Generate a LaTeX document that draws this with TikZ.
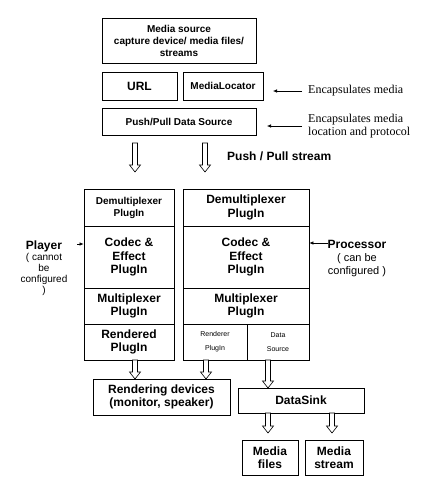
\documentclass[tikz,border=0pt]{standalone}
\usepackage{fontspec}
\setmainfont{Liberation Serif}
\setsansfont{Liberation Sans}
\usetikzlibrary{arrows.meta}
\begin{document}
\begin{tikzpicture}[x=1pt,y=-1pt,
  box/.style={draw, line width=0.8pt, inner sep=0pt, align=center,
    font=\sffamily\bfseries\fontsize{12}{13.5}\selectfont},
  smallbox/.style={box, font=\sffamily\bfseries\fontsize{10}{12}\selectfont},
  tinybox/.style={box, font=\sffamily\fontsize{7}{14}\selectfont},
  label/.style={inner sep=0pt, align=center, font=\sffamily\bfseries\fontsize{12}{13.5}\selectfont},
  note/.style={inner sep=0pt, align=left, font=\rmfamily\fontsize{12}{13}\selectfont},
  pointer/.style={line width=0.6pt, -{Latex[length=4pt,width=3.5pt]}},
  pics/harrow/.style={code={
    \draw[line width=0.6pt, fill=white] (-2.5,0) -- (2.5,0) -- (2.5,#1-7) -- (5.5,#1-7)
      -- (0,#1) -- (-5.5,#1-7) -- (-2.5,#1-7) -- cycle;}}
]
\useasboundingbox (0,0) rectangle (438,488);

% top boxes
\node[smallbox, minimum width=154, minimum height=45] (src) at (179,40.5)
  {Media source\\capture device/ media files/\\streams};
\node[box, minimum width=75, minimum height=28] (url) at (139.5,86) {URL};
\node[smallbox, minimum width=80, minimum height=28] (loc) at (223,86) {MediaLocator};
\node[smallbox, minimum width=154, minimum height=27] (pps) at (179,121.5) {Push/Pull Data Source};

% annotations
\node[note, anchor=west] (enc1) at (308,91) {Encapsulates media};
\node[note, anchor=west] (enc2) at (308,126.5) {Encapsulates media\\location and protocol};
\coordinate (t1) at (273,91);
\coordinate (t2) at (267,126);
\draw[pointer] ([xshift=-6pt]enc1.west) -- (t1);
\draw[pointer] ([xshift=-6pt]enc2.west |- t2) -- (t2);

% push/pull stream
\pic at (135,143) {harrow=29};
\pic at (205,143) {harrow=29};
\node[label, anchor=west] (pps-lbl) at (227,156) {Push / Pull stream};

% player column
\node[smallbox, minimum width=90, minimum height=37] (pdemux) at (129,207.5) {Demultiplexer\\PlugIn};
\node[box, minimum width=90, minimum height=62] (pcodec) at (129,257) {Codec \&\\Effect\\PlugIn};
\node[box, minimum width=90, minimum height=36] (pmux) at (129,306) {Multiplexer\\PlugIn};
\node[box, minimum width=90, minimum height=36] (prend) at (129,342) {Rendered\\PlugIn};

% processor column
\node[box, minimum width=126, minimum height=37] (qdemux) at (246,207.5) {Demultiplexer\\PlugIn};
\node[box, minimum width=126, minimum height=62] (qcodec) at (246,257) {Codec \&\\Effect\\PlugIn};
\node[box, minimum width=126, minimum height=36] (qmux) at (246,306) {Multiplexer\\PlugIn};
\node[tinybox, minimum width=64, minimum height=36] (qrend) at (215,342) {Renderer\\PlugIn};
\node[tinybox, minimum width=62, minimum height=36] (qds) at (278,342) {Data\\Source};

% side labels
\node[inner sep=0pt, align=center, font=\sffamily\fontsize{10}{11}\selectfont] (player) at (44,268)
  {{\bfseries\fontsize{12}{13}\selectfont Player}\\( cannot\\be\\configured\\)};
\coordinate (pa) at (77,244);
\draw[pointer] (pa) -- (pcodec.west |- pa);
\node[inner sep=0pt, align=center, font=\sffamily\fontsize{11}{13}\selectfont] (proc) at (357,259)
  {{\bfseries\fontsize{12}{13}\selectfont Processor}\\( can be\\configured )};
\coordinate (qa) at (328,243);
\draw[pointer] (qa) -- (qcodec.east |- qa);

% bottom
\pic at (135,360) {harrow=19};
\pic at (206,360) {harrow=19};
\pic at (268,360) {harrow=28};
\node[box, minimum width=137, minimum height=36] (rdev) at (161.5,397) {Rendering devices\\(monitor, speaker)};
\node[box, minimum width=126, minimum height=25] (sink) at (301,400.5) {DataSink};
\pic at (268,413) {harrow=20};
\pic at (332,413) {harrow=20};
\node[box, minimum width=56, minimum height=35] (mfiles) at (270,457.5) {Media\\files};
\node[box, minimum width=58, minimum height=35] (mstream) at (334,457.5) {Media\\stream};
\end{tikzpicture}
\end{document}
